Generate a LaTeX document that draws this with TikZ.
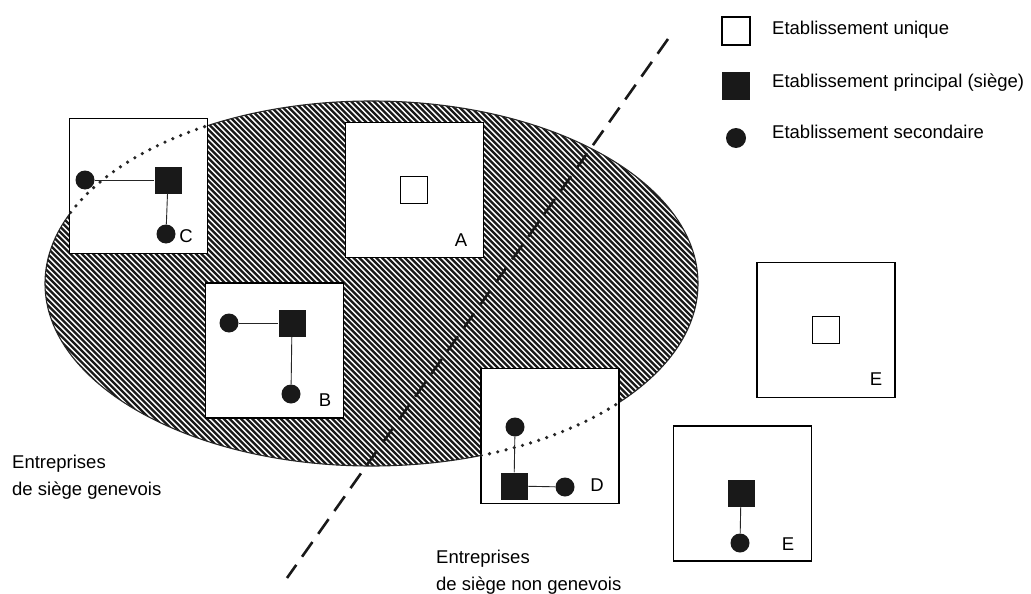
\documentclass[tikz,border=0pt]{standalone}
\usepackage{fontspec}
\setmainfont{Liberation Sans}
\begin{document}
\begin{tikzpicture}[x=1pt,y=-1pt,
  txt/.style={font=\fontsize{18.5}{27}\selectfont, inner sep=0pt, text=black},
  frame/.style={draw, line width=1.5pt, fill=white, minimum width=138pt, minimum height=135pt, inner sep=0pt},
  uniq/.style={draw, line width=1.2pt, fill=white, minimum size=27pt, inner sep=0pt},
  siege/.style={fill=black!90, minimum size=27pt, inner sep=0pt},
  second/.style={circle, fill=black!90, minimum size=19pt, inner sep=0pt},
  link/.style={line width=0.9pt, black!85},
  hatch/.style={line width=2.3pt, black!90},
  partition/.style={line width=2.6pt, black!90, dash pattern=on 18pt off 10pt},
  dotline/.style={line width=3.6pt, line cap=round, dash pattern=on 0pt off 8.5pt, black!85}
]
\useasboundingbox (0,0) rectangle (1031,594);
\fill[white] (0,0) rectangle (1031,594);

% hatched ellipse
\begin{scope}
  \clip (371.5,283.5) ellipse [x radius=326.5, y radius=182.5];
  \foreach \k in {-60,...,127} \draw[hatch] ({\k*5.7},98) -- ++(372,372);
\end{scope}
\draw[line width=1.1pt, black!85] (371.5,283.5) ellipse [x radius=326.5, y radius=182.5];

% boxes
\node[frame] (boxC) at (138.5,186) {};
\node[frame] (boxA) at (414.5,190) {};
\node[frame] (boxB) at (274.5,350.5) {};
\node[frame] (boxD) at (550,436) {};
\node[frame] (boxE1) at (826,330) {};
\node[frame] (boxE2) at (742.5,493.5) {};

% hidden part of the ellipse, dotted inside C and D
\begin{scope}
  \clip (boxC.south west) rectangle (boxC.north east) (boxD.south west) rectangle (boxD.north east);
  \draw[dotline] (371.5,283.5) ellipse [x radius=326.5, y radius=182.5];
\end{scope}

% C
\node[second] (c1) at (85,180) {};
\node[siege] (c2) at (168,180) {};
\node[second] (c3) at (166,234) {};
\draw[link] (c1) -- (c2);
\draw[link] (c2) -- (c3);
\node[txt] (lC) at (186,236) {C};

% A
\node[uniq] (a1) at (414,190) {};
\node[txt] (lA) at (461,240) {A};

% B
\node[second] (b1) at (229,323) {};
\node[siege] (b2) at (292,323) {};
\node[second] (b3) at (291,394) {};
\draw[link] (b1) -- (b2);
\draw[link] (b2) -- (b3);
\node[txt] (lB) at (325,400) {B};

% D
\node[second] (d1) at (515,427) {};
\node[siege] (d2) at (514,486) {};
\node[second] (d3) at (565,487) {};
\draw[link] (d1) -- (d2);
\draw[link] (d2) -- (d3);
\node[txt] (lD) at (597,485) {D};

% E1
\node[uniq] (e1) at (826,330) {};
\node[txt] (lE1) at (876,379) {E};

% E2
\node[siege] (e2) at (741,493) {};
\node[second] (e3) at (740,543) {};
\draw[link] (e2) -- (e3);
\node[txt] (lE2) at (788,544) {E};

% partition line
\coordinate (pt) at (668,39);
\coordinate (pb) at (287,578);
\draw[partition] (pt) -- (pb);

% labels
\node[txt, align=left, anchor=west] (gen) at (12,477) {Entreprises\\de siège genevois};
\node[txt, align=left, anchor=west] (ngen) at (436,572) {Entreprises\\de siège non genevois};

% legend
\node[uniq, minimum size=28pt] (k1) at (736,31) {};
\node[siege, minimum size=28pt] (k2) at (736,86) {};
\node[second, minimum size=20pt] (k3) at (736,138) {};
\node[txt, anchor=west] (t1) at (772,30) {Etablissement unique};
\node[txt, anchor=west] (t2) at (772,83) {Etablissement principal (siège)};
\node[txt, anchor=west] (t3) at (772,132) {Etablissement secondaire};
\end{tikzpicture}
\end{document}
